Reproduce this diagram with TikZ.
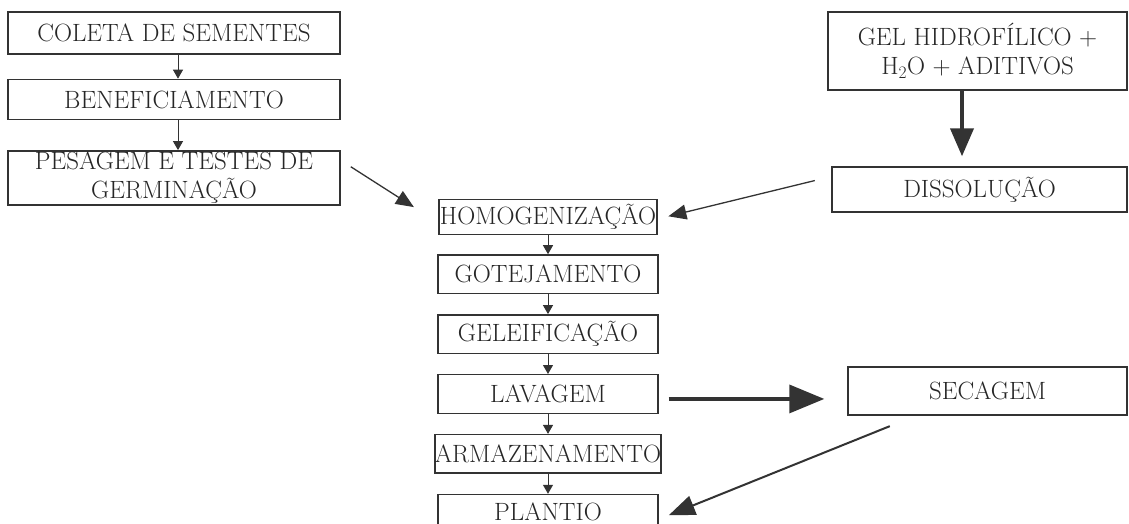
\documentclass[tikz,border=0pt]{standalone}
\usetikzlibrary{arrows.meta,positioning}

\begin{document}
\begin{tikzpicture}[
  x=1pt, y=-1pt,
  node distance=20pt,
  every node/.style={
    draw=black!80, rectangle, line width=1.4pt, inner sep=0pt,
    font=\fontsize{25}{29}\selectfont, text=black!85
  },
  lbox/.style={minimum width=332pt, minimum height=40pt},
  cbox/.style={minimum width=220pt, minimum height=38.5pt},
  rbox/.style={align=center},
  smallarr/.style={-{Triangle[length=9pt,width=10pt]}, line width=1pt, draw=black!80},
  thinarr/.style={-{Triangle[length=18pt,width=15pt]}, line width=1.3pt, draw=black!80},
  medarr/.style={-{Triangle[length=26pt,width=20pt]}, line width=2pt, draw=black!80},
  bigarr/.style={-{Triangle[length=28pt,width=23pt]}, line width=4pt, draw=black!80},
  hugearr/.style={-{Triangle[length=35pt,width=28pt]}, line width=3.5pt, draw=black!80}
]
  \useasboundingbox (0,0) rectangle (1129,524);

  % left column
  \node (col) at (174,33) [lbox, minimum height=42pt] {COLETA DE SEMENTES};
  \node (ben) [lbox, below=24pt of col] {BENEFICIAMENTO};
  \node (pes) [lbox, minimum height=54pt, align=center, below=30pt of ben] {PESAGEM E TESTES DE\\GERMINAÇÃO};

  % right side
  \node (gel) at (977.5,51) [rbox, minimum width=299pt, minimum height=78pt] {GEL HIDROFÍLICO +\\H\textsubscript{2}O + ADITIVOS};
  \node (dis) at (979.5,189.5) [minimum width=295pt, minimum height=45pt] {DISSOLUÇÃO};
  \node (sec) at (987.5,391) [minimum width=279pt, minimum height=48pt] {SECAGEM};

  % centre column
  \node (hom) at (548,217) [cbox, minimum width=218pt, minimum height=35pt] {HOMOGENIZAÇÃO};
  \node (got) [cbox, below=19pt of hom] {GOTEJAMENTO};
  \node (gle) [cbox, below=20pt of got] {GELEIFICAÇÃO};
  \node (lav) [cbox, below=20pt of gle] {LAVAGEM};
  \node (arm) [cbox, below=20pt of lav] {ARMAZENAMENTO};
  \node (pla) [cbox, minimum height=34pt, below=20pt of arm] {PLANTIO};

  \draw[smallarr] ([xshift=4pt]col.south) -- ([xshift=4pt]ben.north);
  \draw[smallarr] ([xshift=4pt]ben.south) -- ([xshift=4pt]pes.north);
  \draw[smallarr] (hom) -- (got);
  \draw[smallarr] (got) -- (gle);
  \draw[smallarr] (gle) -- (lav);
  \draw[smallarr] (lav) -- (arm);
  \draw[smallarr] (arm) -- (pla);

  \draw[bigarr, shorten >=10pt] ([xshift=-15.5pt]gel.south) -- ([xshift=-15.5pt]gel.south |- dis.north);
  \draw[thinarr, shorten <=12pt, shorten >=29pt] (pes.6.5) -- (hom.183.2);
  \draw[thinarr, shorten <=17pt, shorten >=11pt] (dis.175.9) -- (hom.-1.9);
  \draw[hugearr, shorten <=10pt, shorten >=23pt] ([yshift=-5pt]lav.east) -- ([yshift=-5pt]lav.east -| sec.west);
  \draw[medarr, shorten <=28pt, shorten >=11pt] (sec.199.8) -- (pla.-4.1);
\end{tikzpicture}
\end{document}
